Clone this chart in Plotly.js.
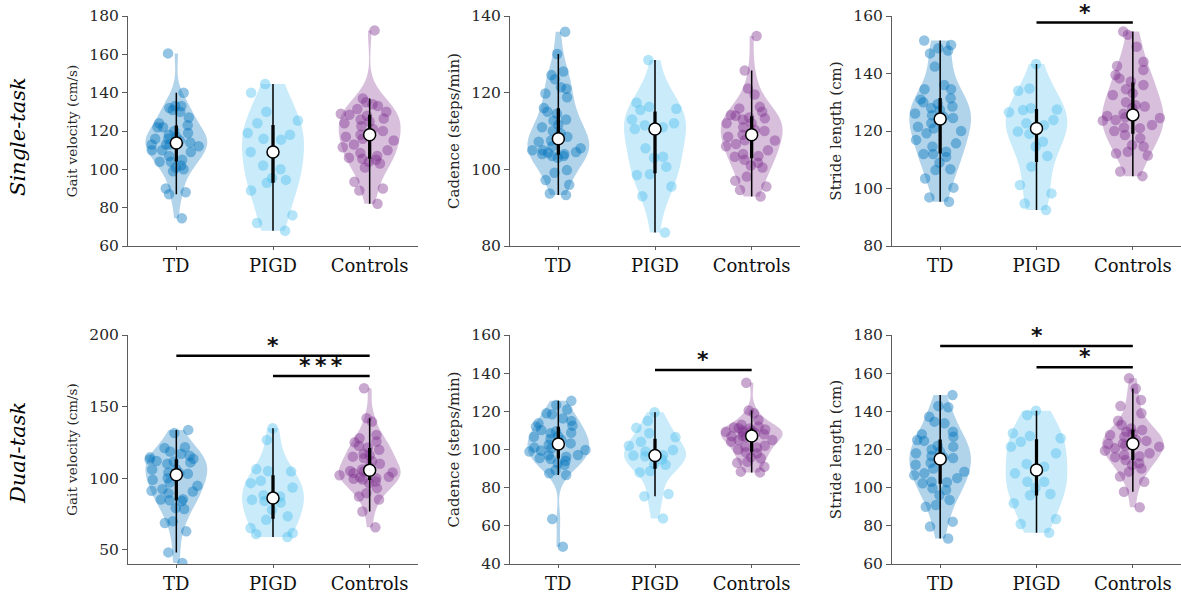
<!DOCTYPE html>
<html><head><meta charset="utf-8">
<script src="https://cdn.plot.ly/plotly-3.0.1.min.js"></script>
<style>html,body{margin:0;padding:0;background:#fff}#chart{width:1181px;height:597px}</style>
</head><body><div id="chart"></div>
<script>
// ---------- data ----------
const categories = ['TD', 'PIGD', 'Controls'];
const taskLabels = ['Single-task', 'Dual-task'];
const measureLabels = ['Gait velocity (cm/s)', 'Cadence (steps/min)', 'Stride length (cm)'];

// Single-task
const stVelocityTD = [74.5, 87, 88, 90, 99, 100, 101, 102, 104, 104, 105, 107, 109, 110, 110, 112, 113, 113, 113, 113.5, 114, 115, 116, 116, 117, 118, 119, 120, 122, 122, 123, 124, 127, 130, 131, 132, 133, 133, 140, 160.5];
const stVelocityPIGD = [68, 72, 76, 89, 93, 94.5, 95.5, 100, 102, 109, 115.5, 116, 118, 119, 124, 125.5, 130, 140, 144.5];
const stVelocityCtrl = [82, 89, 90, 93.5, 101, 103, 104, 105, 105.5, 106, 107, 108.5, 110, 111.5, 113, 115, 116, 117, 118, 119, 120, 121, 122.5, 124, 125, 126, 126.5, 128, 128.5, 129, 130, 131.5, 133, 134, 135, 137, 172.5];

const stCadenceTD = [93.3, 93.7, 96, 97.2, 99.1, 99.8, 103, 103.5, 103.5, 104, 104, 104.3, 104.5, 105, 105, 105.5, 106, 107.2, 107.5, 108, 108.5, 109.4, 110, 111, 111.6, 112.7, 113, 114.5, 115, 116, 118.8, 119.8, 121, 121.4, 123.5, 124.6, 125.5, 130.1, 135.9];
const stCadencePIGD = [83.5, 93, 95.5, 98.5, 98.7, 100.7, 103, 103.3, 105.5, 110.5, 111, 111.5, 112, 113, 115.8, 115.5, 116.3, 117.4, 128.5];
const stCadenceCtrl = [92.9, 94.6, 95.5, 97, 98.1, 100.5, 101, 101.7, 102.5, 103.3, 103.5, 104, 105, 106, 106.6, 107.5, 107.6, 108.5, 109, 109.5, 110, 110.3, 111, 112, 112, 113, 113.3, 113.5, 114, 114.2, 115, 115.9, 116.3, 119.5, 121.1, 125.8, 134.8];

const stStrideTD = [95.4, 96.9, 100.3, 103.5, 106.4, 106.7, 109, 111, 112, 112, 112.8, 114.6, 115.7, 116.9, 119.2, 120, 120.9, 121.5, 122.7, 123.8, 124.5, 125, 125.5, 126.1, 127.3, 128, 128.5, 129.4, 130, 131, 131.4, 134.5, 134.5, 136, 142.4, 147, 148, 148.8, 149.9, 151.5];
const stStridePIGD = [92.5, 94.8, 98.3, 101.2, 107.6, 111.3, 114.6, 116.3, 119, 119.8, 122, 122.7, 123.8, 126.5, 127.3, 127.5, 127.9, 134, 134.8, 143.3];
const stStrideCtrl = [104.3, 105.9, 111.5, 112.2, 112.8, 114.6, 115.1, 117.5, 118.6, 120, 121, 121.2, 122.1, 123.6, 123.8, 124.5, 124.8, 125.2, 126, 128, 128.5, 129, 130, 132.5, 133.1, 134.5, 136, 137.2, 138.3, 139.5, 141.2, 142.6, 144.1, 149.3, 153.5, 154.6];

// Dual-task
const dtVelocityTD = [40.7, 48.1, 62.8, 68.6, 69.8, 78.4, 79.1, 84, 84.5, 85, 85.3, 89.5, 90.7, 91.2, 92.3, 94.7, 97, 98.8, 100, 102.3, 103, 103.5, 104, 106, 106.3, 110, 111, 111.6, 112, 113, 113.5, 114.5, 115.6, 117, 118.6, 121, 121.6, 131.5, 133.7];
const dtVelocityPIGD = [58.8, 61, 61.6, 65.1, 70.9, 73.3, 77.9, 83, 84, 84.9, 87.2, 88, 93.5, 96.5, 98.1, 104.7, 105, 106.3, 126.7, 134.9];
const dtVelocityCtrl = [65.6, 76.7, 85, 87.2, 89.5, 93, 96.5, 97.7, 99, 99.5, 100, 100.5, 101, 102, 103.5, 104, 104.7, 105, 106, 108, 110, 112, 114, 115, 116, 117, 119.8, 121.4, 122.6, 125, 125.6, 127.9, 130.2, 139.5, 141.9, 162.8];

const dtCadenceTD = [49.1, 63.6, 86.6, 87.5, 89.3, 92, 92.8, 94.1, 95, 95.5, 96.2, 97, 97.1, 98.9, 99.5, 99.7, 100.5, 101, 102.5, 102.9, 103.2, 105, 105.5, 106.7, 107, 108.5, 108.8, 109.5, 110.2, 112, 112.5, 113.7, 115, 116.3, 118.5, 119, 121, 123.3, 125.5];
const dtCadencePIGD = [63.9, 75.5, 76.7, 88, 88.7, 92, 92.4, 94.8, 96.5, 96.8, 97, 99, 99.7, 102, 104.1, 106.5, 108.5, 111.4, 115.1, 119.5];
const dtCadenceCtrl = [88, 88.4, 91, 93, 93.6, 95.4, 96, 98, 98.5, 100, 101, 101.5, 102, 104, 105, 105, 106.5, 107, 107.1, 107.5, 108, 108.5, 109, 109.3, 109.8, 110, 110.5, 111, 111.1, 111.5, 112, 113, 115.5, 119, 120.5, 135];

const dtStrideTD = [73.4, 79.6, 82.2, 90, 90.9, 93.5, 96, 98.8, 99.7, 102.3, 102.8, 103.1, 105, 106.5, 107.5, 108.4, 110, 112, 113.1, 115, 115.5, 116, 116.6, 118, 118.9, 120, 121.5, 122, 124.5, 125, 126.7, 128, 129.3, 133.7, 134.6, 137.2, 142.1, 142.8, 148.5];
const dtStridePIGD = [76.4, 81, 83.6, 91.8, 96, 96.7, 100, 103.1, 103.1, 107.5, 111, 112.4, 118, 121.5, 124.1, 125.9, 127.1, 128.5, 138.1, 140.3];
const dtStrideCtrl = [89.7, 97.9, 103.1, 105.8, 108.4, 110, 111.9, 112.8, 114.5, 116, 116.5, 117.1, 118, 119.4, 120.6, 121.5, 122, 123, 123.2, 123.5, 124.5, 125, 126.7, 127.6, 128.5, 129.3, 130.2, 131, 132.8, 135.1, 139, 142.8, 145.9, 152, 157.3];

// significance comparisons [from, to, label]
const sigSingleStride = [['PIGD', 'Controls', '*']];
const sigDualVelocity = [['TD', 'Controls', '*'], ['PIGD', 'Controls', '*\u2009*\u2009*']];
const sigDualCadence = [['PIGD', 'Controls', '*']];
const sigDualStride = [['TD', 'Controls', '*'], ['PIGD', 'Controls', '*']];

// ---------- styling / layout config ----------
const groupColors = [[0, 114, 189], [77, 190, 238], [126, 47, 142]];
const rgba = (c, a) => `rgba(${c[0]},${c[1]},${c[2]},${a})`;
const colDomains = [[128 / 1181, 418 / 1181], [510 / 1181, 800 / 1181], [892 / 1181, 1]];
const rowDomains = [[1 - 246 / 597, 1 - 16 / 597], [1 - 564 / 597, 1 - 335 / 597]];

const panels = [
  { groups: [stVelocityTD, stVelocityPIGD, stVelocityCtrl], measure: 0, row: 0, col: 0, range: [60, 180], tick0: 60, dtick: 20, sig: [], sigY: [], tfs: 13.5 },
  { groups: [stCadenceTD, stCadencePIGD, stCadenceCtrl], measure: 1, row: 0, col: 1, range: [80, 140], tick0: 80, dtick: 20, sig: [], sigY: [], tfs: 15 },
  { groups: [stStrideTD, stStridePIGD, stStrideCtrl], measure: 2, row: 0, col: 2, range: [80, 160], tick0: 80, dtick: 20, sig: sigSingleStride, sigY: [157.7], tfs: 15 },
  { groups: [dtVelocityTD, dtVelocityPIGD, dtVelocityCtrl], measure: 0, row: 1, col: 0, range: [40, 200], tick0: 50, dtick: 50, sig: sigDualVelocity, sigY: [185.5, 171.3], tfs: 13.5 },
  { groups: [dtCadenceTD, dtCadencePIGD, dtCadenceCtrl], measure: 1, row: 1, col: 1, range: [40, 160], tick0: 40, dtick: 20, sig: sigDualCadence, sigY: [141.7], tfs: 15 },
  { groups: [dtStrideTD, dtStridePIGD, dtStrideCtrl], measure: 2, row: 1, col: 2, range: [60, 180], tick0: 60, dtick: 20, sig: sigDualStride, sigY: [174.2, 163.1], tfs: 15 }
];

function median(a) {
  const s = a.slice().sort((p, q) => p - q), n = s.length;
  return n % 2 ? s[(n - 1) / 2] : (s[n / 2 - 1] + s[n / 2]) / 2;
}

const FONT = 'DejaVu Serif';
const TXT = '#262626';
const AXC = '#5c5c5c';
const traces = [];
const layout = {
  width: 1181, height: 597, margin: { l: 0, r: 0, t: 0, b: 0 },
  paper_bgcolor: '#fff', plot_bgcolor: 'rgba(0,0,0,0)', showlegend: false,
  violinmode: 'overlay', font: { family: FONT, color: TXT },
  annotations: []
};

panels.forEach((p, i) => {
  const sfx = i === 0 ? '' : String(i + 1);
  const xa = 'x' + sfx, ya = 'y' + sfx;
  const pos = categories.map((c, k) => k + 1);
  p.groups.forEach((vals, k) => {
    const c = groupColors[k];
    traces.push({
      type: 'violin', x0: pos[k], y: vals, xaxis: xa, yaxis: ya, name: categories[k],
      width: 0.64, spanmode: 'hard', scalemode: 'width',
      fillcolor: rgba(c, 0.3), line: { width: 0, color: rgba(c, 0) },
      points: 'all', pointpos: 0, jitter: 1,
      marker: { size: 10.5, color: rgba(c, 0.42), line: { width: 0 } },
      box: { visible: false }, meanline: { visible: false }, hoverinfo: 'skip'
    });
    traces.push({
      type: 'violin', x0: pos[k], y: vals, xaxis: xa, yaxis: ya, name: categories[k],
      width: 0.64, spanmode: 'hard', scalemode: 'width',
      fillcolor: 'rgba(0,0,0,0)', line: { width: 0, color: 'rgba(0,0,0,0)' },
      points: 'outliers', marker: { size: 1, opacity: 0, color: 'rgba(0,0,0,0)' },
      box: { visible: true, width: 0.028, fillcolor: '#000', line: { color: '#000', width: 1.5 } },
      meanline: { visible: false }, hoverinfo: 'skip'
    });
  });
  traces.push({
    type: 'scatter', mode: 'markers', xaxis: xa, yaxis: ya, x: pos, y: p.groups.map(median),
    marker: { size: 12, color: '#fff', line: { color: '#000', width: 1.5 } }, cliponaxis: false, hoverinfo: 'skip'
  });
  p.sig.forEach((s, j) => {
    const a = categories.indexOf(s[0]) + 1, b = categories.indexOf(s[1]) + 1, h = p.sigY[j];
    traces.push({
      type: 'scatter', mode: 'lines', xaxis: xa, yaxis: ya, x: [a, b], y: [h, h],
      line: { color: '#000', width: 2.5 }, cliponaxis: false, hoverinfo: 'skip'
    });
    layout.annotations.push({
      xref: xa, yref: ya, x: (a + b) / 2, y: h, text: s[2], showarrow: false,
      yanchor: 'bottom', yshift: -4, font: { family: 'DejaVu Sans', size: 22, color: '#111', weight: 'bold' }
    });
  });
  layout['xaxis' + sfx] = {
    domain: colDomains[p.col], anchor: ya, type: 'linear', range: [0.5, 3.5],
    tickmode: 'array', tickvals: pos, ticktext: categories,
    showline: true, linecolor: AXC, linewidth: 1, ticks: 'outside', ticklen: 3, tickcolor: AXC,
    showgrid: false, zeroline: false, fixedrange: true,
    tickfont: { family: FONT, size: 18, color: '#111' }
  };
  layout['yaxis' + sfx] = {
    domain: rowDomains[p.row], anchor: xa, range: p.range, tick0: p.tick0, dtick: p.dtick,
    showline: true, linecolor: AXC, linewidth: 1, ticks: 'outside', ticklen: 5, tickcolor: AXC,
    showgrid: false, zeroline: false, fixedrange: true,
    tickfont: { family: FONT, size: 15.5, color: TXT },
    title: { text: measureLabels[p.measure], standoff: 8, font: { family: FONT, size: p.tfs, color: TXT } }
  };
});

taskLabels.forEach((t, r) => {
  layout.annotations.push({
    xref: 'paper', yref: 'paper', x: 18 / 1181, y: r === 0 ? 1 - 137 / 597 : 1 - 453 / 597,
    text: '<i>' + t + '</i>', textangle: -90, showarrow: false, xanchor: 'center', yanchor: 'middle',
    font: { family: FONT, size: 21, color: '#000' }
  });
});

Plotly.newPlot('chart', traces, layout, { staticPlot: true });
</script>
</body></html>
